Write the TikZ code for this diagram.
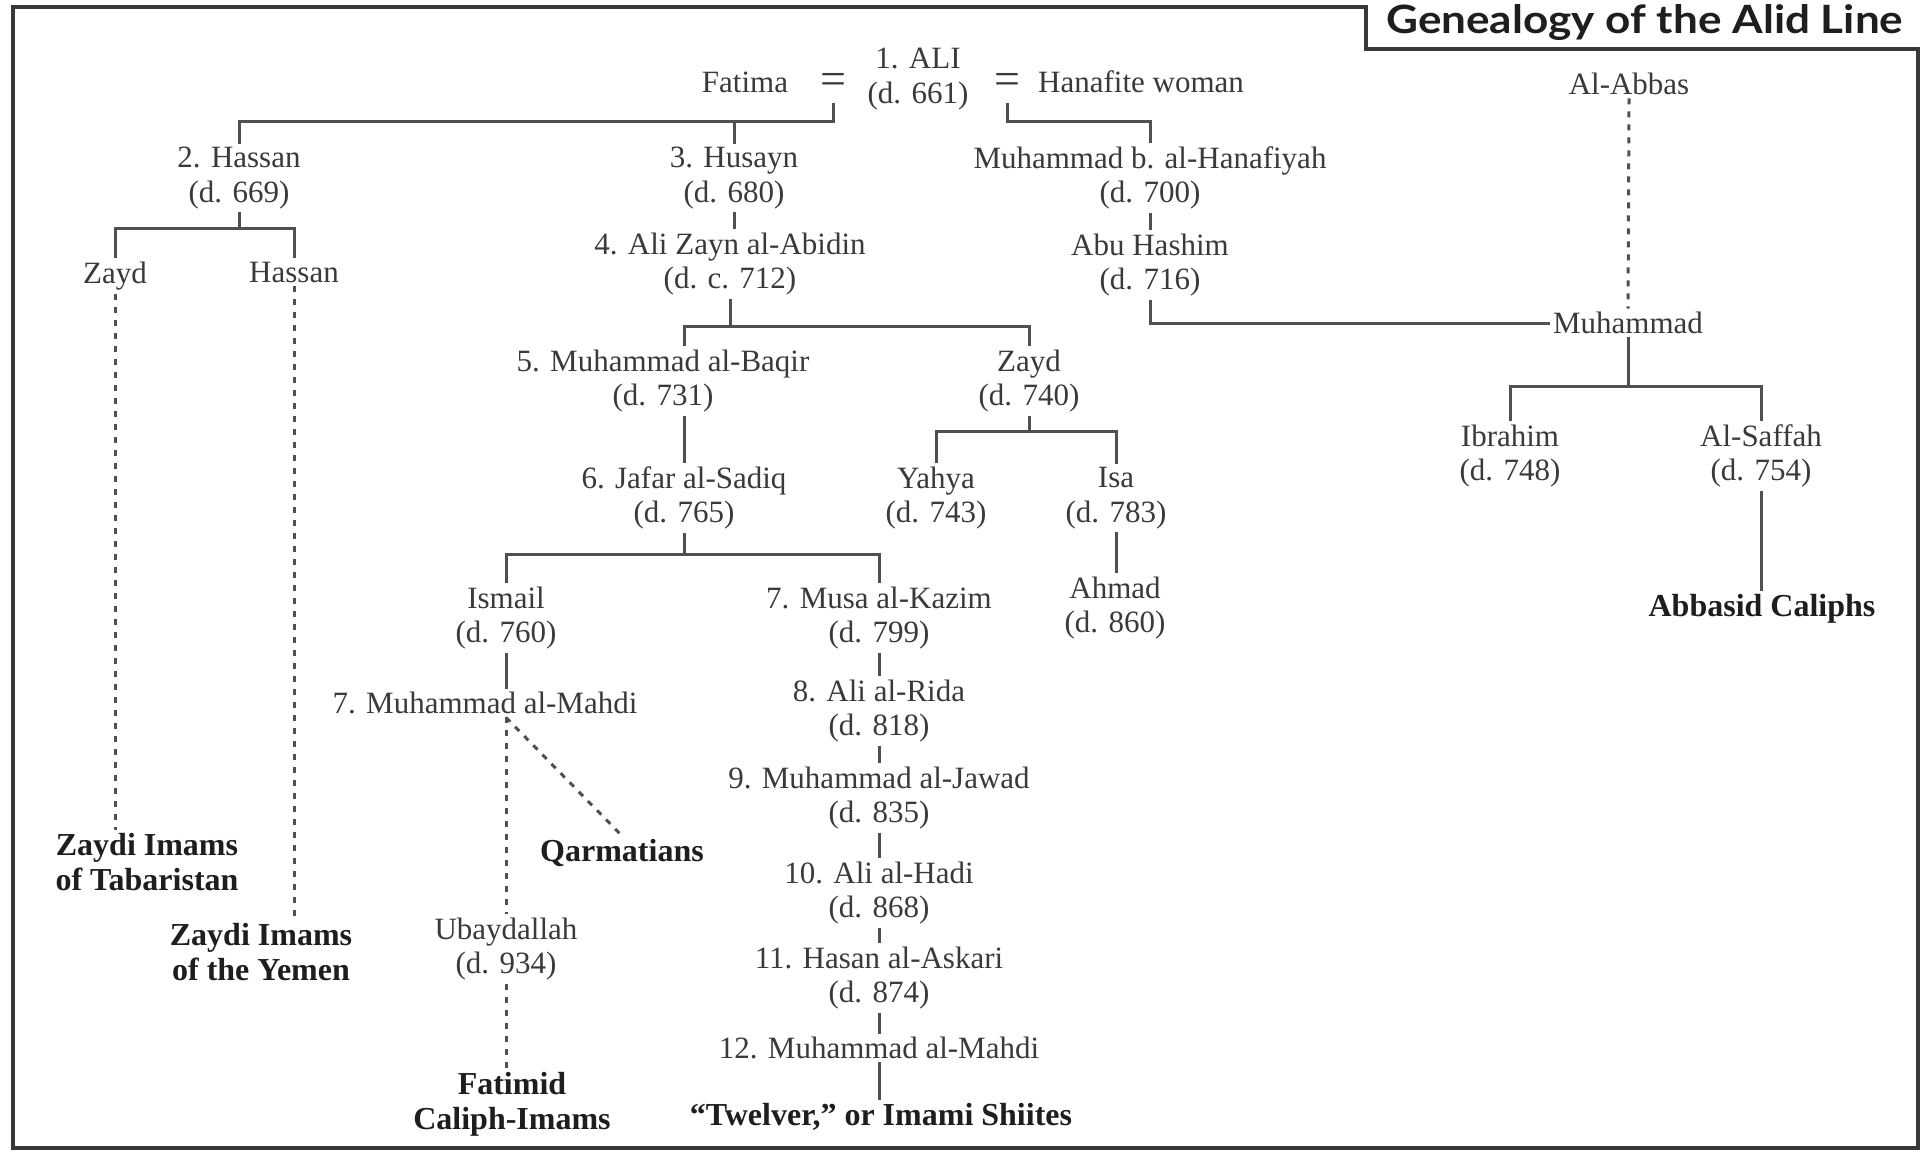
\documentclass[tikz,border=0pt]{standalone}
\usepackage{fontspec}
\setmainfont{Liberation Serif}
\newfontfamily\titlefont{Lato}
\usetikzlibrary{calc}
\definecolor{txt}{HTML}{3A3A3A}
\definecolor{txtb}{HTML}{1E1E1E}
\definecolor{lin}{HTML}{505050}
\definecolor{frm}{HTML}{383838}
\begin{document}
\begin{tikzpicture}[x=1pt,y=-1pt,
  person/.style={align=center, font=\fontsize{31}{34.5}\selectfont, text=txt, inner sep=0pt, outer sep=3.5pt},
  branch/.style={align=center, font=\fontsize{32}{35}\selectfont\bfseries, text=txtb, inner sep=0pt, outer sep=3.5pt},
  eqsign/.style={font=\fontsize{46}{46}\selectfont, text=txt, inner sep=0pt},
  link/.style={draw=lin, line width=3pt},
  dlink/.style={link, dash pattern=on 6pt off 7pt},
  frame/.style={draw=frm, line width=4pt}]
\fill[white] (0,0) rectangle (1921,1153);
\useasboundingbox (0,0) rectangle (1921,1153);

% title and frame
\node[anchor=base west, font=\titlefont\bfseries\fontsize{39}{39}\selectfont, text=txtb, inner sep=0pt, xscale=1.13] (title) at (1386,34) {Genealogy of the Alid Line};
\draw[frame] (13,7) -- (1366,7) -- (1366,49) -- (1918,49) -- (1918,1148) -- (13,1148) -- cycle;

% nodes
\node[person] (fatima) at (745,82) {Fatima};
\node[eqsign] (eq1) at (833,84) {=};
\node[person] (ali) at (918,79) {1. ALI\\(d. 661)};
\node[eqsign] (eq2) at (1007,84) {=};
\node[person] (hanafite) at (1141,82) {Hanafite woman};
\node[person] (abbas) at (1629,84) {Al-Abbas};

\node[person] (hassan2) at (239,178) {2. Hassan\\(d. 669)};
\node[person] (husayn) at (734,178) {3. Husayn\\(d. 680)};
\node[person] (hanafiyah) at (1150,178) {Muhammad b. al-Hanafiyah\\(d. 700)};
\node[person] (zayd1) at (115,276) {Zayd};
\node[person] (hassanB) at (294,272) {Hassan};
\node[person] (zayn) at (730,264) {4. Ali Zayn al-Abidin\\(d. c. 712)};
\node[person] (abuhashim) at (1150,265) {Abu Hashim\\(d. 716)};
\node[person] (muhammadA) at (1628,323) {Muhammad};
\node[person] (baqir) at (663,381) {5. Muhammad al-Baqir\\(d. 731)};
\node[person] (zayd2) at (1029,381) {Zayd\\(d. 740)};
\node[person] (jafar) at (684,498) {6. Jafar al-Sadiq\\(d. 765)};
\node[person] (yahya) at (936,498) {Yahya\\(d. 743)};
\node[person] (isa) at (1116,498) {Isa\\(d. 783)};
\node[person] (ibrahim) at (1510,456) {Ibrahim\\(d. 748)};
\node[person] (saffah) at (1761,456) {Al-Saffah\\(d. 754)};
\node[person] (ismail) at (506,618) {Ismail\\(d. 760)};
\node[person] (musa) at (879,618) {7. Musa al-Kazim\\(d. 799)};
\node[person] (ahmad) at (1115,608) {Ahmad\\(d. 860)};
\node[branch] (abbasid) at (1762,609) {Abbasid Caliphs};
\node[person] (mahdi7) at (485,703) {7. Muhammad al-Mahdi};
\node[person] (rida) at (879,711) {8. Ali al-Rida\\(d. 818)};
\node[person] (jawad) at (879,798) {9. Muhammad al-Jawad\\(d. 835)};
\node[person] (hadi) at (879,893) {10. Ali al-Hadi\\(d. 868)};
\node[person] (askari) at (879,978) {11. Hasan al-Askari\\(d. 874)};
\node[person] (mahdi12) at (879,1048) {12. Muhammad al-Mahdi};
\node[branch] (twelver) at (881,1117) {“Twelver,” or Imami Shiites};
\node[branch] (qarm) at (622,853) {Qarmatians};
\node[person] (ubayd) at (506,949) {Ubaydallah\\(d. 934)};
\node[branch] (fatimid) at (512,1104) {Fatimid\\Caliph-Imams};
\node[branch] (tabaristan) at (147,862) {Zaydi Imams\\of Tabaristan};
\node[branch] (yemen) at (261,952) {Zaydi Imams\\of the Yemen};

% bar coordinates
\coordinate (barA) at (833,122);
\coordinate (barB) at (1007,122);
\coordinate (barC) at (239,228);
\coordinate (barD) at (730,326);
\coordinate (barE) at (684,554);
\coordinate (barF) at (1029,431);
\coordinate (barG) at (1628,386);

% connectors
\draw[link] ($(eq1.center)+(0,19)$) -- (eq1.center |- barA) -| (hassan2.north);
\draw[link] (husayn.north) -- (husayn.north |- barA);
\draw[link] ($(eq2.center)+(0,19)$) -- (eq2.center |- barB) -| (hanafiyah.north);

\draw[link] (hassan2.south) -- (hassan2.south |- barC);
\draw[link] (zayd1.north) |- (barC) -| (hassanB.north);
\draw[dlink] (zayd1.south) -- (zayd1.south |- tabaristan.north);
\draw[dlink] (hassanB.south) -- (hassanB.south |- yemen.north);

\draw[link] (husayn.south) -- (husayn.south |- zayn.north);
\draw[link] (zayn.south) -- (zayn.south |- barD);
\draw[link] (jafar.north |- baqir.north) |- (barD) -| (zayd2.north);
\draw[link] (jafar.north) -- (jafar.north |- baqir.south);

\draw[link] (zayd2.south) -- (zayd2.south |- barF);
\draw[link] (yahya.north) |- (barF) -| (isa.north);
\draw[link] (isa.south) -- (isa.south |- ahmad.north);

\draw[link] (jafar.south) -- (jafar.south |- barE);
\draw[link] (ismail.north) |- (barE) -| (musa.north);
\draw[link] (ismail.south) -- (ismail.south |- mahdi7.north);
\draw[dlink] (ubayd.north |- mahdi7.south) -- (ubayd.north);
\draw[dlink] (ubayd.north |- mahdi7.south) -- (qarm.north);
\draw[dlink] (ubayd.south) -- (ubayd.south |- fatimid.north);

\foreach \a/\b in {musa/rida, rida/jawad, jawad/hadi, hadi/askari, askari/mahdi12, mahdi12/twelver}
  \draw[link] (\a.south) -- (\a.south |- \b.north);

\draw[link] (hanafiyah.south) -- (hanafiyah.south |- abuhashim.north);
\draw[link] (abuhashim.south) |- (muhammadA.west);
\draw[dlink] (abbas.south) -- (muhammadA.north);
\draw[link] (muhammadA.south) -- (muhammadA.south |- barG);
\draw[link] (ibrahim.north) |- (barG) -| (saffah.north);
\draw[link] (saffah.south) -- (saffah.south |- abbasid.north);
\end{tikzpicture}
\end{document}
